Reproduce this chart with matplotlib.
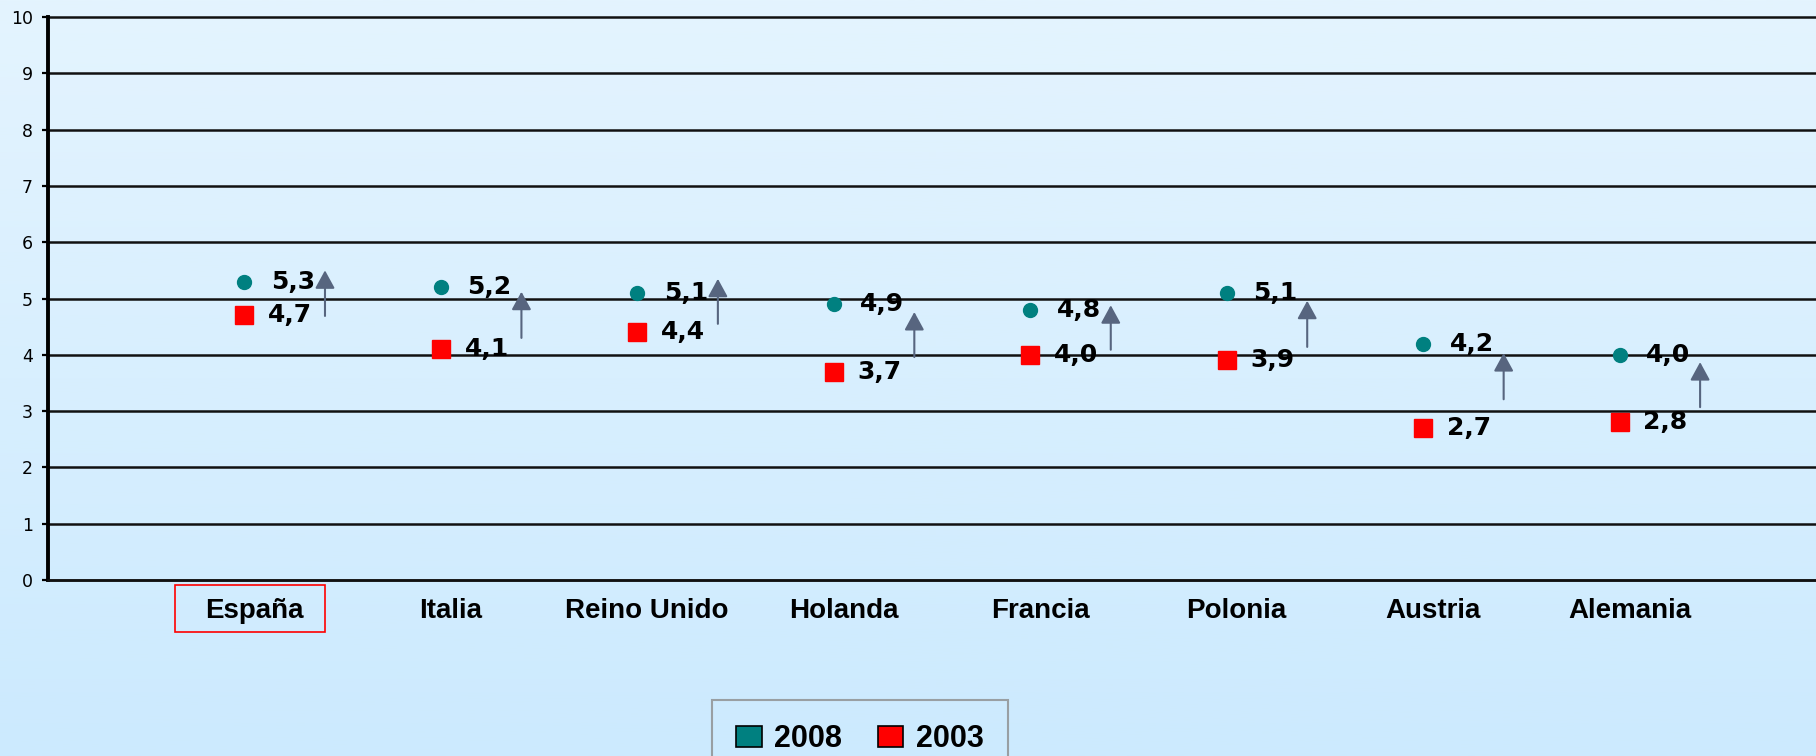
import numpy as np
import matplotlib
matplotlib.use("Agg")
import matplotlib.pyplot as plt
from matplotlib.patches import Patch, Rectangle
from matplotlib.transforms import blended_transform_factory

paises = ["España", "Italia", "Reino Unido", "Holanda", "Francia", "Polonia", "Austria", "Alemania"]
v2008 = [5.3, 5.2, 5.1, 4.9, 4.8, 5.1, 4.2, 4.0]
v2003 = [4.7, 4.1, 4.4, 3.7, 4.0, 3.9, 2.7, 2.8]
# flechas decorativas (inicio y punta)
flecha_desde = [4.69, 4.30, 4.55, 3.96, 4.09, 4.14, 3.21, 3.07]
flecha_hasta = [5.50, 5.12, 5.35, 4.76, 4.88, 4.96, 4.03, 3.87]

c2008 = "#008080"
c2003 = "#ff0000"
c_flecha = "#57657f"

fig = plt.figure(figsize=(18.16, 7.56), dpi=100)

# fondo degradado
bg = fig.add_axes([0, 0, 1, 1], zorder=-10)
grad = np.linspace(0, 1, 256).reshape(-1, 1)
top = np.array([228, 244, 254]) / 255
bot = np.array([204, 234, 254]) / 255
img = top + (bot - top) * grad[..., None]
bg.imshow(img, aspect="auto", extent=[0, 1, 0, 1])
bg.axis("off")

ax = fig.add_axes([48 / 1816, 1 - 580 / 756, 1 - 48 / 1816, (580 - 17) / 756])
ax.patch.set_alpha(0)

x = np.arange(len(paises))
ax.plot(x, v2008, "o", color=c2008, ms=10, mec=c2008, zorder=4)
ax.plot(x, v2003, "s", color=c2003, ms=13, mec=c2003, zorder=4)

for i in range(len(paises)):
    ax.annotate(f"{v2008[i]:.1f}".replace(".", ","), (x[i], v2008[i]), xytext=(19, 0),
                textcoords="offset points", va="center", ha="left",
                fontsize=18, fontweight="bold", family="DejaVu Sans", zorder=5)
    ax.annotate(f"{v2003[i]:.1f}".replace(".", ","), (x[i], v2003[i]), xytext=(17, 0),
                textcoords="offset points", va="center", ha="left",
                fontsize=18, fontweight="bold", family="DejaVu Sans", zorder=5)
    ax.annotate("", xy=(x[i] + 0.41, flecha_hasta[i]), xytext=(x[i] + 0.41, flecha_desde[i]),
                arrowprops=dict(arrowstyle="-|>,head_width=0.3,head_length=0.55",
                                mutation_scale=20, color=c_flecha, lw=1.5,
                                shrinkA=0, shrinkB=0), zorder=3)

ax.set_xlim(-1, 8)
ax.set_ylim(0, 10)
ax.set_yticks(range(0, 11))
# etiquetas un poco desplazadas a la derecha, como en el original
ax.set_xticks(x + 0.05)
ax.set_xticklabels(paises, fontsize=20, fontweight="bold", family="Liberation Sans")

ax.tick_params(axis="x", length=0, pad=13)
ax.tick_params(axis="y", length=4.3, width=1.6, pad=6.5, labelsize=12.5)

ax.grid(axis="y", color="#111111", lw=1.8, zorder=1)
for gl in ax.get_ygridlines():
    gl.set_clip_on(False)
ax.set_axisbelow(True)
for s in ["top", "right"]:
    ax.spines[s].set_visible(False)
ax.spines["left"].set_linewidth(2.8)
ax.spines["bottom"].set_linewidth(1.8)
ax.spines["bottom"].set_color("#111111")

# recuadro rojo alrededor de España
tr = blended_transform_factory(ax.transData, fig.transFigure)
ax.add_patch(Rectangle((-0.355, 1 - 632 / 756), 0.765, 47 / 756, transform=tr,
                       fill=False, edgecolor="red", lw=1.2, clip_on=False))

handles = [Patch(facecolor=c2008, edgecolor="black", lw=1.2, label="2008"),
           Patch(facecolor=c2003, edgecolor="black", lw=1.2, label="2003")]
leg = fig.legend(handles=handles, loc="upper left", bbox_to_anchor=(712 / 1816, 1 - 700 / 756),
                 ncol=2, frameon=True, fancybox=False, borderaxespad=0,
                 prop=dict(family="Liberation Sans", weight="bold", size=22),
                 handlelength=0.82, handleheight=0.7, handletextpad=0.4,
                 columnspacing=1.2, borderpad=0.8)
leg.get_frame().set_edgecolor("#8c8c8c")
leg.get_frame().set_linewidth(1.5)
leg.get_frame().set_facecolor("none")

fig.savefig("out.png", dpi=100)
